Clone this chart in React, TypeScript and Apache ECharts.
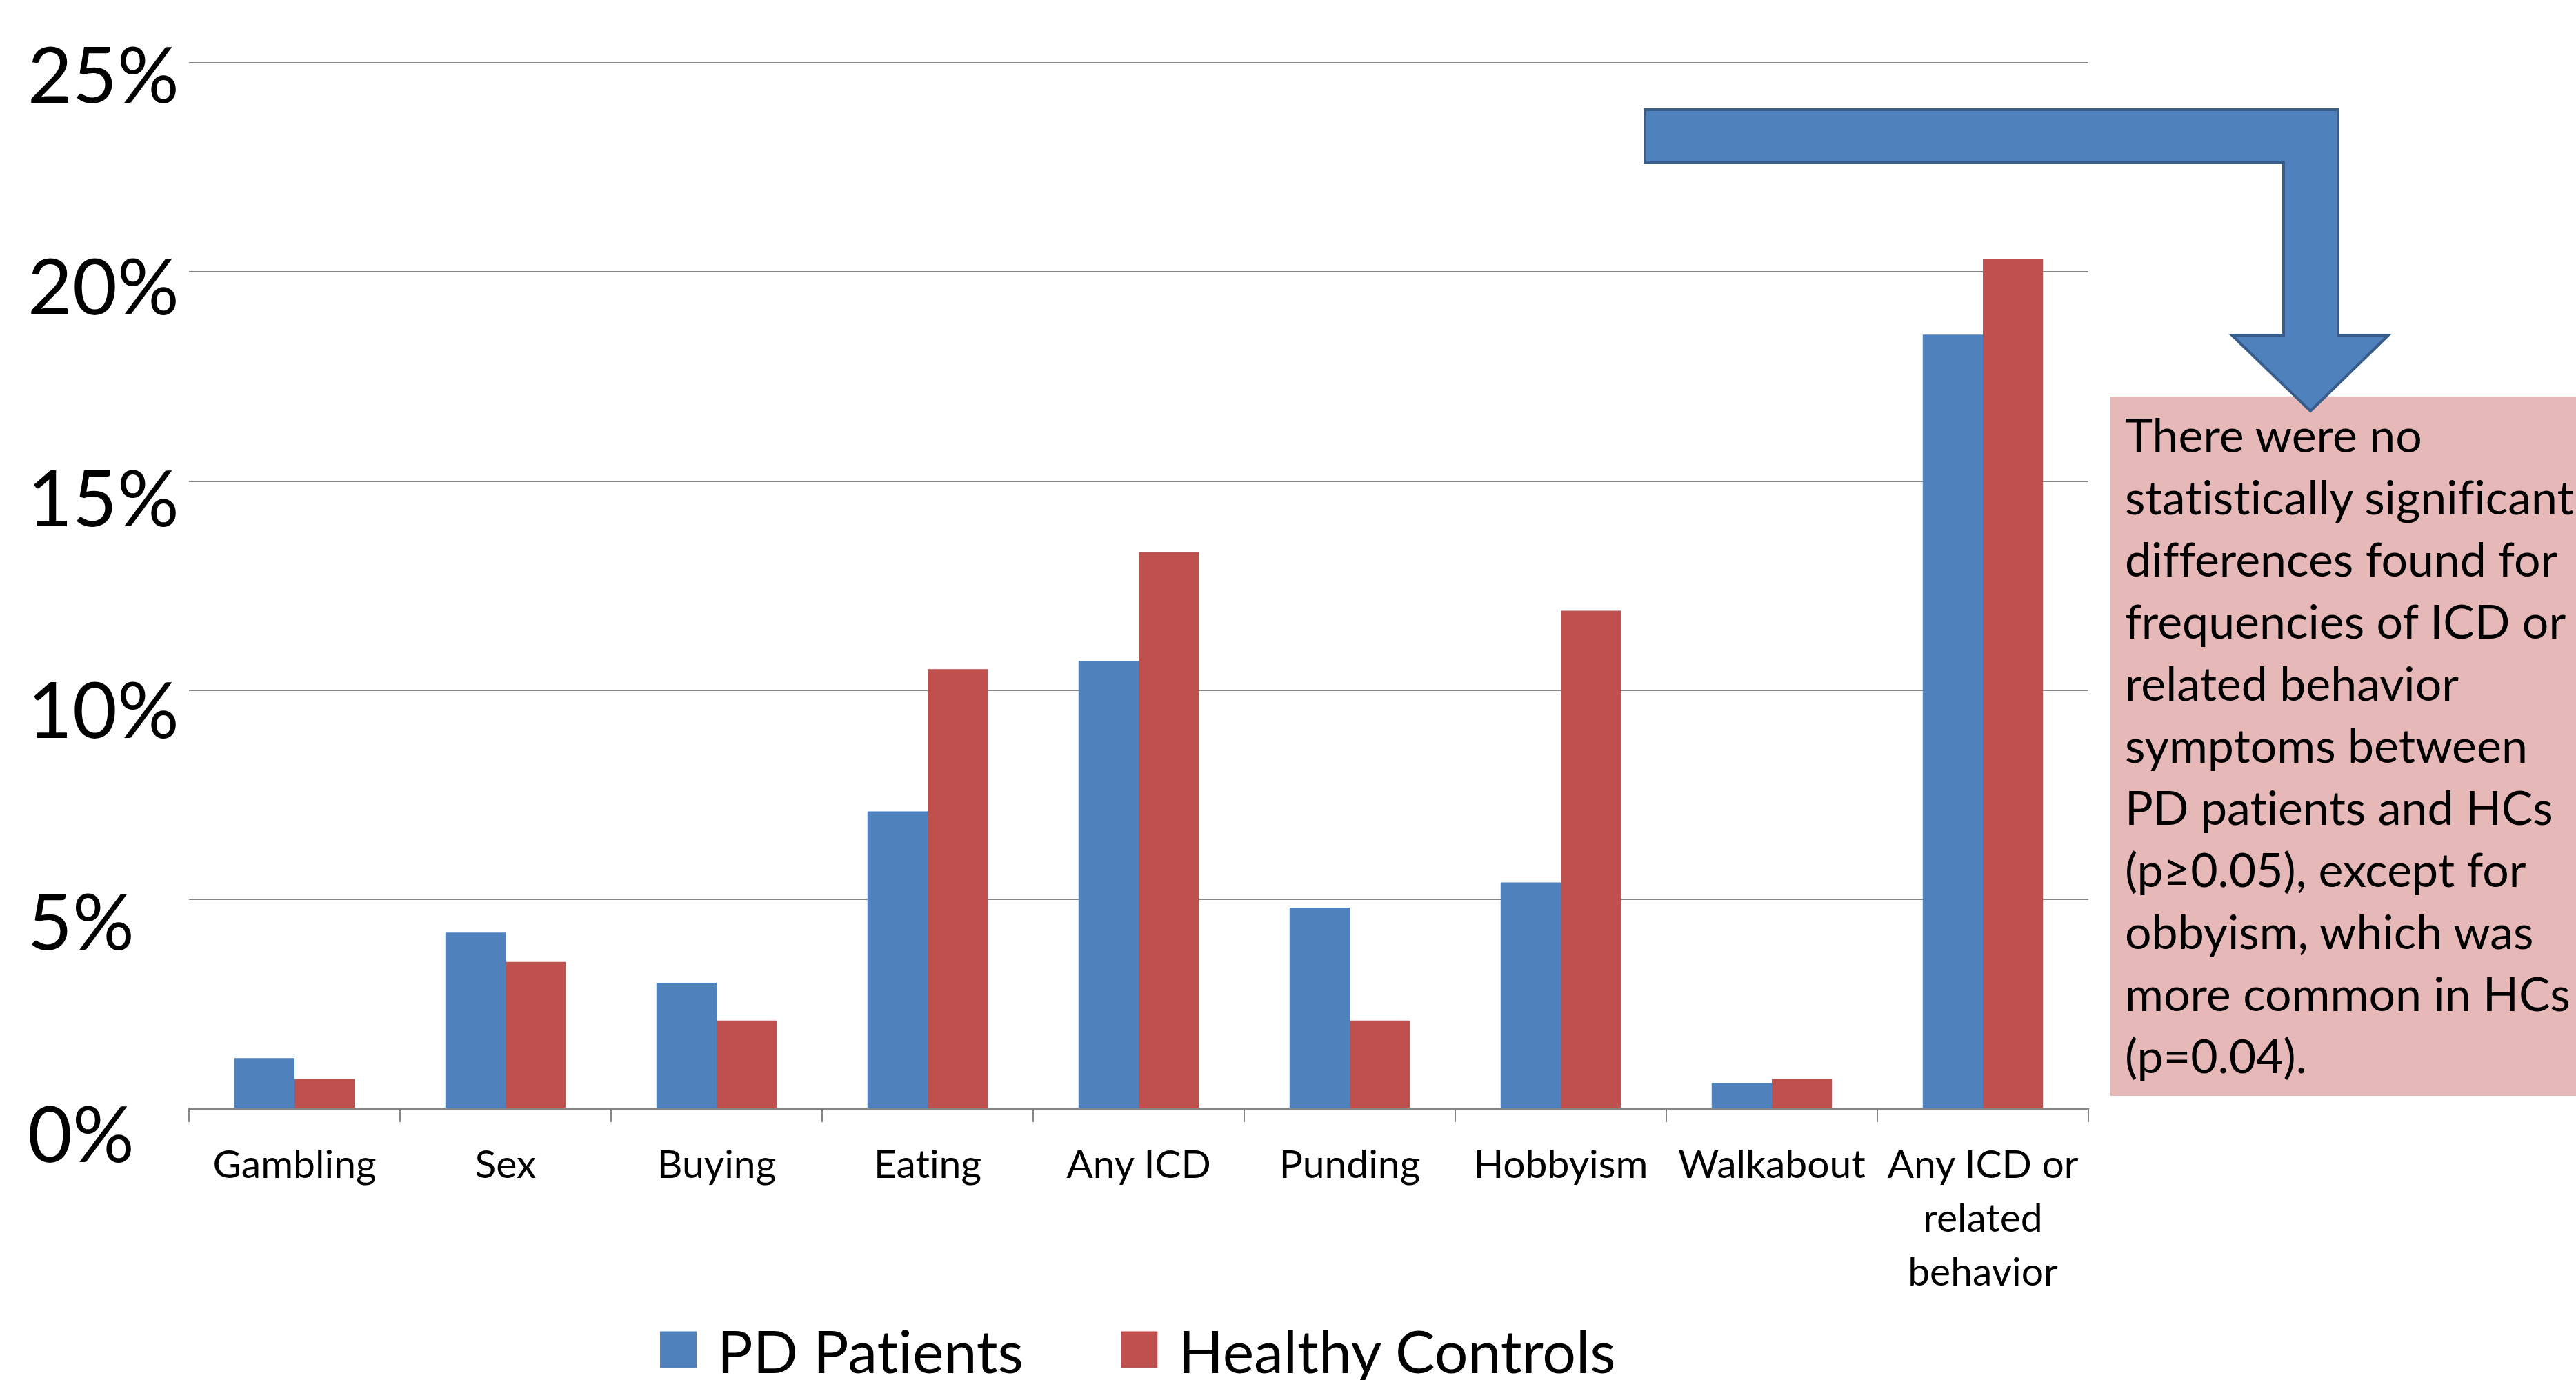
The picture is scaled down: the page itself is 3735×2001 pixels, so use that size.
import React, { useEffect, useRef } from "react";
import * as echarts from "echarts";

const categories = [
  "Gambling",
  "Sex",
  "Buying",
  "Eating",
  "Any ICD",
  "Punding",
  "Hobbyism",
  "Walkabout",
  "Any ICD or\nrelated\nbehavior",
];
const pdPatients = [1.2, 4.2, 3.0, 7.1, 10.7, 4.8, 5.4, 0.6, 18.5];
const healthyControls = [0.7, 3.5, 2.1, 10.5, 13.3, 2.1, 11.9, 0.7, 20.3];
const yTicks = [0, 5, 10, 15, 20, 25];
const noteLines = [
  "There were no",
  "statistically significant",
  "differences found for",
  "frequencies of ICD or",
  "related behavior",
  "symptoms between",
  "PD patients and HCs",
  "(p\u22650.05), except for",
  "obbyism, which was",
  "more common in HCs",
  "(p=0.04).",
];

const FONT = "Lato, 'Open Sans', sans-serif";

export default function App() {
  const ref = useRef<HTMLDivElement>(null);
  useEffect(() => {
    document.body.style.margin = "0";
    document.body.style.overflow = "hidden";
    const chart = echarts.init(ref.current!, null, { renderer: "svg" });
    const rich: Record<string, any> = {};
    yTicks.forEach((v) => {
      const off = 14 + ((25 - v) / 25) * 20;
      rich["l" + v] = {
        fontSize: 112,
        fontFamily: FONT,
        color: "#000",
        padding: [off * 2, 0, 0, 0],
      };
    });
    chart.setOption({
      animation: false,
      backgroundColor: "#ffffff",
      grid: { left: 274, right: 707, top: 91, bottom: 394, containLabel: false },
      legend: {
        data: ["PD Patients", "Healthy Controls"],
        left: 957,
        top: 1914,
        padding: 0,
        icon: "rect",
        itemWidth: 53,
        itemHeight: 53,
        itemGap: 140,
        textStyle: {
          fontSize: 86,
          fontFamily: FONT,
          color: "#000",
          lineHeight: 86,
          padding: [0, 0, 0, 25],
        },
      },
      xAxis: {
        type: "category",
        data: categories,
        axisLine: { show: true, lineStyle: { color: "#868686", width: 3 } },
        axisTick: { show: true, length: 20, lineStyle: { color: "#868686", width: 2 } },
        axisLabel: {
          interval: 0,
          fontSize: 57,
          fontFamily: FONT,
          color: "#000",
          lineHeight: 78,
          margin: 40,
        },
        splitLine: { show: false },
      },
      yAxis: {
        type: "value",
        min: 0,
        max: 25,
        interval: 5,
        axisLine: { show: false },
        axisTick: { show: false },
        axisLabel: {
          margin: 234,
          align: "left",
          formatter: (v: number) => `{l${v}|${v}%}`,
          rich,
        },
        splitLine: { show: true, lineStyle: { color: "#868686", width: 2 } },
      },
      series: [
        {
          name: "PD Patients",
          type: "bar",
          data: pdPatients,
          itemStyle: { color: "#4F81BD" },
          barGap: "0%",
          barCategoryGap: "43%",
        },
        {
          name: "Healthy Controls",
          type: "bar",
          data: healthyControls,
          itemStyle: { color: "#C0504D" },
          barGap: "0%",
          barCategoryGap: "43%",
        },
      ],
      graphic: [
        {
          type: "rect",
          z: 10,
          shape: { x: 3059, y: 575, width: 700, height: 1014 },
          style: { fill: "#E6B9B8" },
        },
        {
          type: "text",
          z: 11,
          x: 3081,
          y: 584,
          style: {
            text: noteLines.join("\n"),
            fontSize: 68,
            fontFamily: FONT,
            fill: "#000",
            lineHeight: 90,
            verticalAlign: "top",
            align: "left",
          },
        },
        {
          type: "polygon",
          z: 12,
          shape: {
            points: [
              [2385, 159],
              [3390, 159],
              [3390, 486],
              [3463, 486],
              [3350, 596],
              [3236, 486],
              [3311, 486],
              [3311, 236],
              [2385, 236],
            ],
          },
          style: { fill: "#4F81BD", stroke: "#385D8A", lineWidth: 4 },
        },
      ],
    });
    return () => chart.dispose();
  }, []);
  return (
    <div
      ref={ref}
      style={{ width: 3735, height: 2001, fontVariantLigatures: "none" }}
    />
  );
}
